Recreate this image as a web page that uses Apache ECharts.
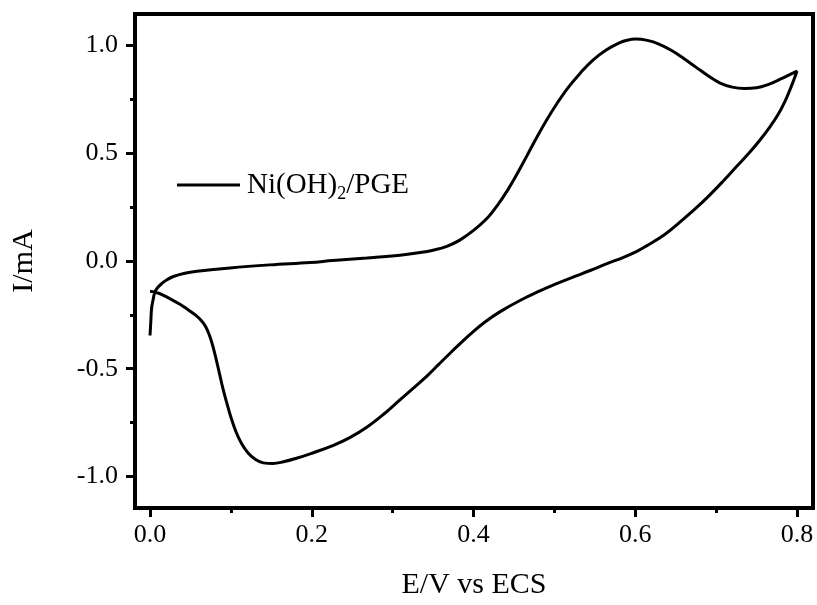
<!DOCTYPE html>
<html><head><meta charset="utf-8">
<script src="https://cdn.jsdelivr.net/npm/echarts@6/dist/echarts.min.js"></script>
<style>html,body{margin:0;padding:0;background:#fff}#c{width:817px;height:605px}</style>
</head><body><div id="c"></div>
<script>
// Cyclic voltammogram: forward (anodic) scan then reverse (cathodic) scan
const potential = [
  0.000, 0.001, 0.002, 0.004, 0.006, 0.010, 0.015, 0.021, 0.028, 0.043, 0.058, 0.099,
  0.148, 0.198, 0.226, 0.268, 0.309, 0.334, 0.350, 0.367, 0.383, 0.400, 0.418, 0.430,
  0.442, 0.454, 0.466, 0.479, 0.491, 0.503, 0.517, 0.532, 0.548, 0.565, 0.581, 0.590, 0.600,
  0.615, 0.630, 0.645, 0.660, 0.675, 0.690, 0.705, 0.720, 0.735, 0.750, 0.765, 0.780, 0.800,
  0.796, 0.791, 0.785, 0.777, 0.767, 0.755, 0.741, 0.725, 0.708, 0.692, 0.675, 0.657, 0.636,
  0.613, 0.602, 0.584, 0.565, 0.545, 0.523, 0.502, 0.482, 0.458, 0.433, 0.415, 0.399, 0.385,
  0.371, 0.357, 0.343, 0.326, 0.309, 0.290, 0.268, 0.247, 0.226, 0.198, 0.180, 0.165, 0.152,
  0.140, 0.130, 0.121, 0.113, 0.106, 0.100, 0.095, 0.090, 0.086, 0.082, 0.078, 0.074,
  0.069, 0.063, 0.056, 0.047, 0.037, 0.016, 0.006, 0.000
];
const current = [
  -0.346, -0.277, -0.217, -0.176, -0.144, -0.121, -0.103, -0.087, -0.073, -0.057, -0.048, -0.032,
  -0.018, -0.007, 0.002, 0.014, 0.027, 0.039, 0.050, 0.068, 0.097, 0.142, 0.203, 0.261,
  0.328, 0.405, 0.488, 0.579, 0.658, 0.730, 0.805, 0.872, 0.934, 0.982, 1.014, 1.025, 1.030,
  1.024, 1.006, 0.977, 0.940, 0.900, 0.860, 0.826, 0.807, 0.801, 0.804, 0.820, 0.845, 0.881,
  0.840, 0.792, 0.740, 0.682, 0.625, 0.565, 0.502, 0.437, 0.368, 0.306, 0.245, 0.186, 0.122,
  0.068, 0.045, 0.015, -0.012, -0.043, -0.075, -0.106, -0.139, -0.182, -0.235, -0.281, -0.330, -0.378,
  -0.428, -0.480, -0.532, -0.589, -0.645, -0.708, -0.772, -0.820, -0.857, -0.895, -0.917, -0.932, -0.940,
  -0.937, -0.920, -0.890, -0.846, -0.790, -0.725, -0.660, -0.590, -0.525, -0.460, -0.400, -0.350,
  -0.306, -0.275, -0.250, -0.226, -0.201, -0.158, -0.144, -0.140
];
const xMajorTicks = [0, 0.2, 0.4, 0.6, 0.8];
const xMinorTicks = [0.1, 0.3, 0.5, 0.7];
const yMajorTicks = [-1, -0.5, 0, 0.5, 1];
const yMinorTicks = [-0.75, -0.25, 0.25, 0.75];
const seriesName = 'Ni(OH)2/PGE';
const xTitle = 'E/V vs ECS';
const yTitle = 'I/mA';

const FONT = "'Liberation Serif', 'Times New Roman', serif";
const X_MIN = -0.0186, X_MAX = 0.8198, Y_MIN = -1.1465, Y_MAX = 1.1465;
const data = potential.map((p, i) => [p, current[i]]);
const fmt = v => v.toFixed(1);

const chart = echarts.init(document.getElementById('c'), null, {renderer: 'canvas'});
chart.setOption({
  animation: false,
  backgroundColor: '#fff',
  grid: {left: 135, right: 4, top: 14, bottom: 90, show: true, borderColor: '#000', borderWidth: 4, containLabel: false},
  legend: {
    data: [{name: seriesName, icon: 'rect'}],
    left: 177, top: 167, padding: 0, itemWidth: 63, itemHeight: 3,
    formatter: () => 'Ni(OH){sub|2}/PGE',
    textStyle: {
      fontFamily: FONT, fontSize: 29, color: '#000', lineHeight: 36, padding: [0, 0, 0, 2],
      rich: {sub: {fontFamily: FONT, fontSize: 18, color: '#000', verticalAlign: 'bottom', lineHeight: 18}}
    }
  },
  xAxis: [
    {
      type: 'value', min: X_MIN, max: X_MAX, position: 'bottom',
      name: xTitle, nameLocation: 'middle', nameGap: 62,
      nameTextStyle: {fontFamily: FONT, fontSize: 30, color: '#000'},
      axisLine: {onZero: false, lineStyle: {color: '#000', width: 4}},
      axisTick: {customValues: xMajorTicks, length: 9, lineStyle: {color: '#000', width: 3}},
      axisLabel: {customValues: xMajorTicks, formatter: fmt, fontFamily: FONT, fontSize: 26, color: '#000', margin: 14},
      splitLine: {show: false}
    },
    {
      type: 'value', min: X_MIN, max: X_MAX, position: 'bottom',
      axisLine: {show: false, onZero: false},
      axisTick: {customValues: xMinorTicks, length: 5, lineStyle: {color: '#000', width: 3}},
      axisLabel: {show: false},
      splitLine: {show: false}
    }
  ],
  yAxis: [
    {
      type: 'value', min: Y_MIN, max: Y_MAX, position: 'left',
      name: yTitle, nameLocation: 'middle', nameGap: 96,
      nameTextStyle: {fontFamily: FONT, fontSize: 30, color: '#000'},
      axisLine: {onZero: false, lineStyle: {color: '#000', width: 4}},
      axisTick: {customValues: yMajorTicks, length: 9, lineStyle: {color: '#000', width: 3}},
      axisLabel: {customValues: yMajorTicks, formatter: fmt, fontFamily: FONT, fontSize: 26, color: '#000', margin: 17},
      splitLine: {show: false}
    },
    {
      type: 'value', min: Y_MIN, max: Y_MAX, position: 'left',
      axisLine: {show: false, onZero: false},
      axisTick: {customValues: yMinorTicks, length: 5, lineStyle: {color: '#000', width: 3}},
      axisLabel: {show: false},
      splitLine: {show: false}
    }
  ],
  series: [{
    name: seriesName, type: 'line', xAxisIndex: 0, yAxisIndex: 0,
    data: data, showSymbol: false, smooth: 0.4, color: '#000',
    lineStyle: {color: '#000', width: 3}
  }]
});
</script>
</body></html>
